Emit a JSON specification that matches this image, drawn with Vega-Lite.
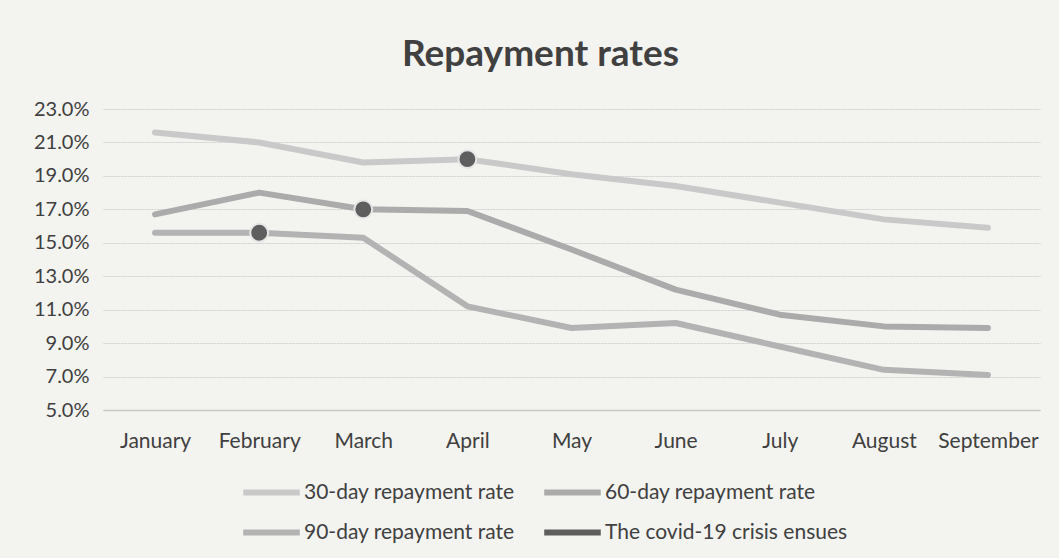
{
  "$schema": "https://vega.github.io/schema/vega-lite/v6.json",
  "width": 937,
  "height": 301,
  "autosize": {"type": "none"},
  "padding": {"left": 103, "top": 109, "right": 19, "bottom": 148},
  "background": "#f3f3f0",
  "title": {
    "text": "Repayment rates",
    "font": "Lato",
    "fontSize": 37,
    "fontWeight": "bold",
    "color": "#404040",
    "anchor": "middle",
    "dx": -31,
    "offset": 25
  },
  "config": {
    "view": {"stroke": null},
    "font": "Lato"
  },
  "data": {
    "values": [
      {"month": "January", "series": "30-day repayment rate", "value": 21.6},
      {"month": "February", "series": "30-day repayment rate", "value": 21.0},
      {"month": "March", "series": "30-day repayment rate", "value": 19.8},
      {"month": "April", "series": "30-day repayment rate", "value": 20.0},
      {"month": "May", "series": "30-day repayment rate", "value": 19.1},
      {"month": "June", "series": "30-day repayment rate", "value": 18.4},
      {"month": "July", "series": "30-day repayment rate", "value": 17.4},
      {"month": "August", "series": "30-day repayment rate", "value": 16.4},
      {"month": "September", "series": "30-day repayment rate", "value": 15.9},
      {"month": "January", "series": "60-day repayment rate", "value": 16.7},
      {"month": "February", "series": "60-day repayment rate", "value": 18.0},
      {"month": "March", "series": "60-day repayment rate", "value": 17.0},
      {"month": "April", "series": "60-day repayment rate", "value": 16.9},
      {"month": "May", "series": "60-day repayment rate", "value": 14.6},
      {"month": "June", "series": "60-day repayment rate", "value": 12.2},
      {"month": "July", "series": "60-day repayment rate", "value": 10.7},
      {"month": "August", "series": "60-day repayment rate", "value": 10.0},
      {"month": "September", "series": "60-day repayment rate", "value": 9.9},
      {"month": "January", "series": "90-day repayment rate", "value": 15.6},
      {"month": "February", "series": "90-day repayment rate", "value": 15.6},
      {"month": "March", "series": "90-day repayment rate", "value": 15.3},
      {"month": "April", "series": "90-day repayment rate", "value": 11.2},
      {"month": "May", "series": "90-day repayment rate", "value": 9.9},
      {"month": "June", "series": "90-day repayment rate", "value": 10.2},
      {"month": "July", "series": "90-day repayment rate", "value": 8.8},
      {"month": "August", "series": "90-day repayment rate", "value": 7.4},
      {"month": "September", "series": "90-day repayment rate", "value": 7.1},
      {"month": "February", "series": "The covid-19 crisis ensues", "value": 15.6},
      {"month": "March", "series": "The covid-19 crisis ensues", "value": 17.0},
      {"month": "April", "series": "The covid-19 crisis ensues", "value": 20.0}
    ]
  },
  "encoding": {
    "x": {
      "field": "month",
      "type": "ordinal",
      "sort": ["January", "February", "March", "April", "May", "June", "July", "August", "September"],
      "scale": {"type": "point", "padding": 0.5},
      "axis": {
        "title": null,
        "labelAngle": 0,
        "labelFontSize": 21,
        "labelColor": "#404040",
        "labelPadding": 20,
        "domainColor": "#c8c8c8",
        "domainWidth": 1.5,
        "ticks": false,
        "grid": false
      }
    },
    "y": {
      "field": "value",
      "type": "quantitative",
      "scale": {"domain": [5, 23], "nice": false, "zero": false},
      "axis": {
        "title": null,
        "values": [5, 7, 9, 11, 13, 15, 17, 19, 21, 23],
        "labelExpr": "format(datum.value, '.1f') + '%'",
        "labelFontSize": 20,
        "labelColor": "#404040",
        "labelPadding": 14,
        "domain": false,
        "ticks": false,
        "gridColor": "#cfcfcf",
        "gridWidth": 1,
        "gridDash": [2, 1]
      }
    },
    "color": {
      "field": "series",
      "type": "nominal",
      "scale": {
        "domain": ["30-day repayment rate", "60-day repayment rate", "90-day repayment rate", "The covid-19 crisis ensues"],
        "range": ["#c9c9c9", "#ababab", "#b3b3b3", "#5e5e5e"]
      },
      "legend": {
        "title": null,
        "orient": "none",
        "legendX": 137,
        "legendY": 372,
        "direction": "horizontal",
        "columns": 2,
        "columnPadding": 26,
        "rowPadding": 17,
        "symbolType": "stroke",
        "symbolSize": 3200,
        "symbolStrokeWidth": 6,
        "symbolOffset": 0,
        "labelFontSize": 21,
        "labelColor": "#404040",
        "labelOffset": 1,
        "labelLimit": 300,
        "clipHeight": 23
      }
    }
  },
  "layer": [
    {
      "transform": [{"filter": "datum.series !== 'The covid-19 crisis ensues'"}],
      "mark": {"type": "line", "strokeWidth": 6, "interpolate": "linear", "strokeCap": "round", "strokeJoin": "round"}
    },
    {
      "transform": [{"filter": "datum.series === 'The covid-19 crisis ensues'"}],
      "mark": {"type": "point", "filled": true, "size": 320, "opacity": 1, "stroke": "#e6e6e6", "strokeWidth": 2}
    }
  ]
}
